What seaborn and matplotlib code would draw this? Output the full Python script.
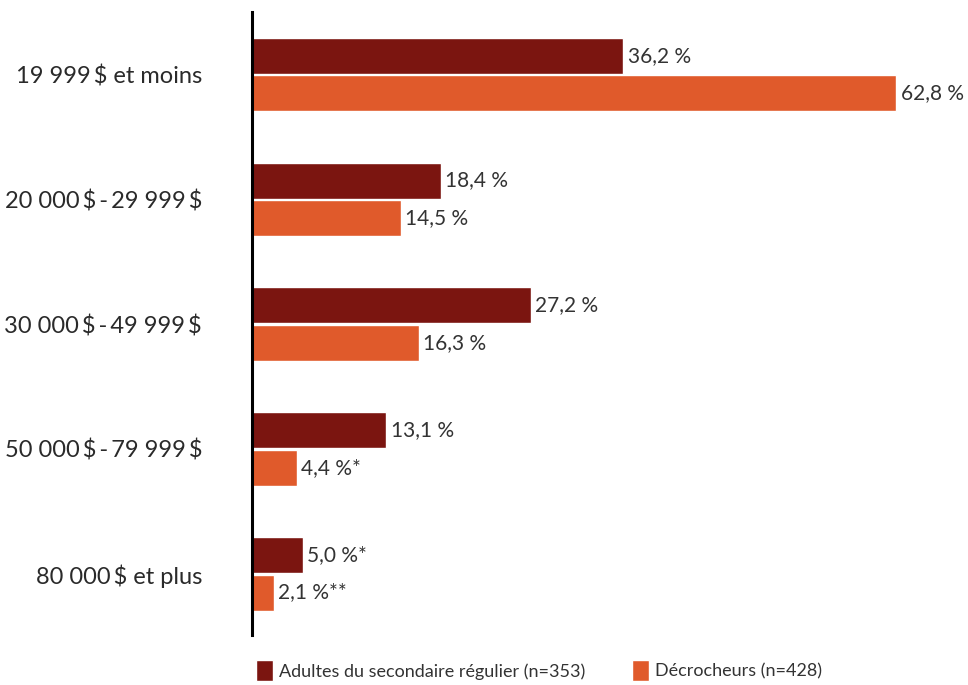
import pandas as pd
import matplotlib.pyplot as plt
import seaborn as sns
from matplotlib.patches import Patch

categories = ["19 999\u2009$ et moins", "20 000\u2009$\u2009-\u200929 999\u2009$",
              "30 000\u2009$\u2009-\u200949 999\u2009$", "50 000\u2009$\u2009-\u200979 999\u2009$",
              "80 000\u2009$ et plus"]
groups = ["Adultes du secondaire régulier (n=353)", "Décrocheurs (n=428)"]
adultes = [36.2, 18.4, 27.2, 13.1, 5.0]
decrocheurs = [62.8, 14.5, 16.3, 4.4, 2.1]
adultes_labels = ["36,2 %", "18,4 %", "27,2 %", "13,1 %", "5,0 %*"]
decrocheurs_labels = ["62,8 %", "14,5 %", "16,3 %", "4,4 %*", "2,1 %**"]
colors = ["#7b1510", "#e05a2b"]

df = pd.DataFrame({
    "revenu": categories * 2,
    "groupe": [groups[0]] * 5 + [groups[1]] * 5,
    "pct": adultes + decrocheurs,
})

sns.set_style("white")
plt.rcParams["font.family"] = ["Lato", "DejaVu Sans"]
plt.rcParams["text.parse_math"] = False

fig = plt.figure(figsize=(9.68, 6.85), dpi=100)
ax = fig.add_axes([252 / 968, 1 - 635 / 685, 708 / 968, 623 / 685])

sns.barplot(data=df, y="revenu", x="pct", hue="groupe", order=categories,
            hue_order=groups, palette=colors, orient="h", width=0.6, gap=0.04,
            saturation=1, legend=False, ax=ax)

for cont, labs in zip(ax.containers, [adultes_labels, decrocheurs_labels]):
    ax.bar_label(cont, labels=labs, padding=3, fontsize=15, color="#333333")

ax.set_xlim(0, 69)
ax.set_ylim(4.49, -0.5)
ax.set_xlabel("")
ax.set_ylabel("")
ax.set_xticks([])
ax.tick_params(axis="y", length=0, pad=36, labelsize=17, labelcolor="#2a2a2a")
for s in ["top", "right", "bottom"]:
    ax.spines[s].set_visible(False)
ax.spines["left"].set_color("black")
ax.spines["left"].set_linewidth(2.2)

handles = [Patch(facecolor=c, label=g) for c, g in zip(colors, groups)]
fig.legend(handles=handles, loc="lower left", bbox_to_anchor=(240 / 968, -0.018),
           ncol=2, frameon=False, fontsize=13, handlelength=0.95, handleheight=1.4,
           handletextpad=0.3, columnspacing=2.6, labelcolor="#333333")

fig.savefig("out.png", dpi=100)
